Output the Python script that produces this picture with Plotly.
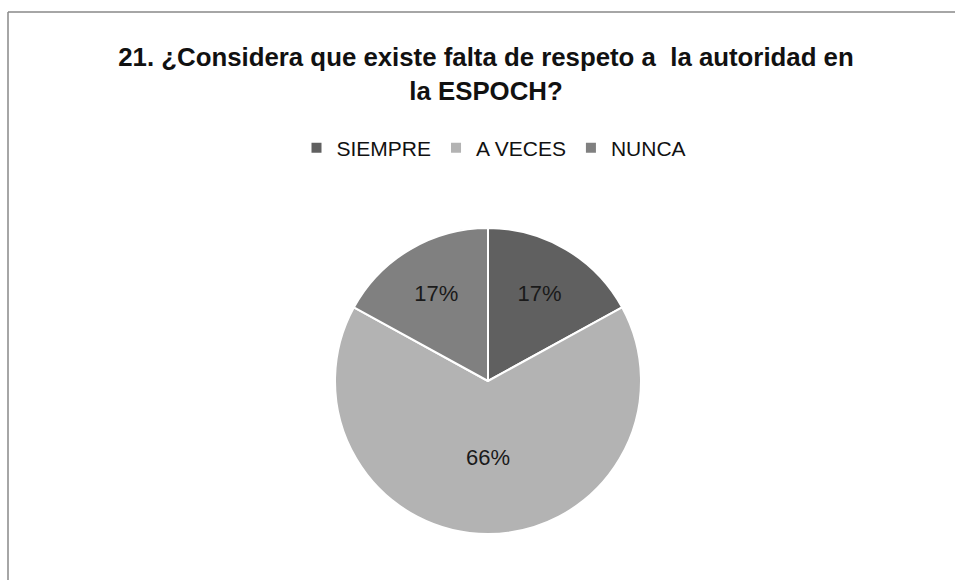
import plotly.graph_objects as go

categories = ["SIEMPRE", "A VECES", "NUNCA"]
values = [17, 66, 17]
colors = ["#606060", "#b3b3b3", "#808080"]

W, H = 955, 580
cx, cy, r = 488, 381, 153
FONT = "Liberation Sans, Arial"

fig = go.Figure(go.Pie(
    labels=categories,
    values=values,
    sort=False,
    direction="clockwise",
    rotation=0,
    marker=dict(colors=colors, line=dict(color="white", width=2)),
    textinfo="percent",
    texttemplate="%{percent:.0%}",
    textposition="inside",
    insidetextorientation="horizontal",
    textfont=dict(family=FONT, size=22, color="#1a1a1a"),
    domain=dict(x=[(cx - r) / W, (cx + r) / W], y=[1 - (cy + r) / H, 1 - (cy - r) / H]),
    hoverinfo="label+percent",
))

fig.update_layout(
    width=W, height=H,
    margin=dict(l=0, r=0, t=0, b=0),
    paper_bgcolor="white",
    plot_bgcolor="white",
    title=dict(
        text="<b>21. ¿Considera que existe falta de respeto a  la autoridad en<br>la ESPOCH?</b>",
        x=486 / W, xanchor="center",
        y=1 - 66 / H, yanchor="top",
        font=dict(family=FONT, size=25.8, color="#111111"),
    ),
    legend=dict(
        orientation="h",
        x=494 / W, xanchor="center",
        y=1 - 148 / H, yanchor="middle",
        font=dict(family=FONT, size=21, color="#111111"),
        itemwidth=30,
        itemclick=False,
    ),
    shapes=[
        dict(type="line", xref="paper", yref="paper", x0=8 / W, x1=1, y0=1 - 12 / H, y1=1 - 12 / H,
             line=dict(color="#888888", width=1.5)),
        dict(type="line", xref="paper", yref="paper", x0=8 / W, x1=8 / W, y0=0, y1=1 - 12 / H,
             line=dict(color="#888888", width=1.5)),
    ],
)

fig.write_html("out.html")
